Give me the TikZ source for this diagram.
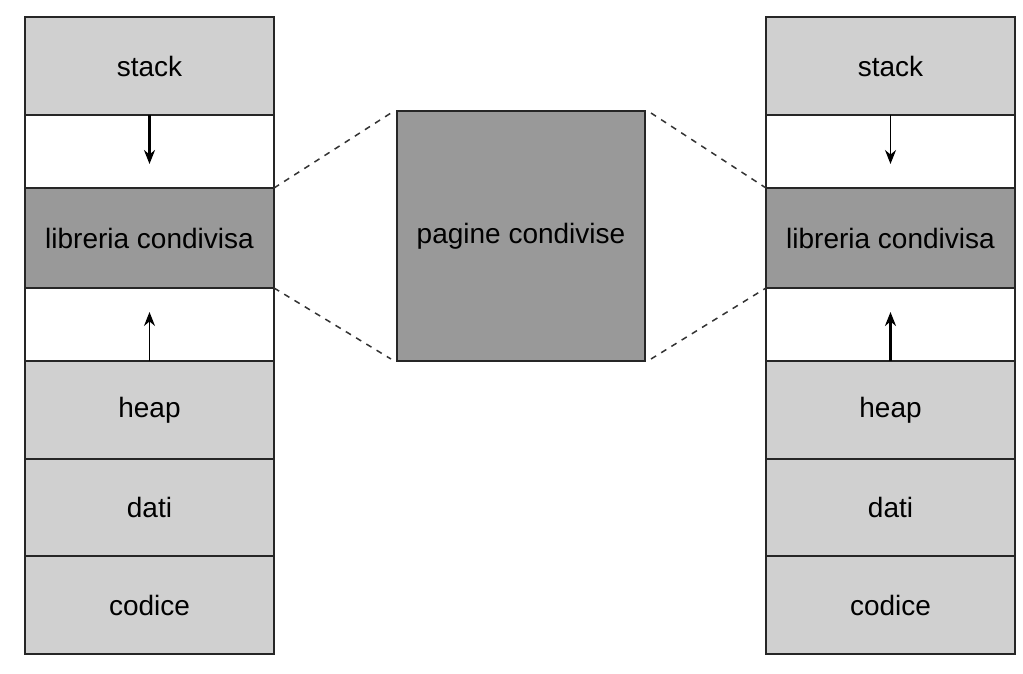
\documentclass[tikz,border=0pt]{standalone}
\usepackage{fontspec}
\setmainfont{Liberation Sans}
\usetikzlibrary{positioning}
\usetikzlibrary {arrows.meta}
\definecolor{cellgray}{RGB}{208,208,208}
\definecolor{libgray}{RGB}{153,153,153}
\tikzset{segment/.style={rectangle,draw=black!85,fill=cellgray,line width=0.75pt,
outer sep=0pt,inner sep=2pt,minimum height=49pt, minimum width=124.5pt,font=\fontsize{14}{16}\selectfont}}
\tikzset{gap/.style={segment,fill=white,minimum height=36.5pt}}
\tikzset{shlib/.style={segment,fill=libgray,minimum height=50pt}}
\tikzset{growth/.style={line width=0.7pt,-{Stealth[length=7pt,width=5.5pt]}}}

\begin{document}
\begin{tikzpicture}
        \useasboundingbox[fill=white] (0pt,0pt) rectangle (511.5pt,-337pt);

        % left process
        \node[segment] (lstack) at (74.75pt,-33pt) {stack};
        \node[gap] (lfreeA) [below=0pt of lstack] {};
        \node[shlib] (llib) [below=0pt of lfreeA] {libreria condivisa};
        \node[gap] (lfreeB) [below=0pt of llib] {};
        \node[segment] (lheap) [below=0pt of lfreeB] {heap};
        \node[segment,minimum height=48.5pt] (ldati) [below=0pt of lheap] {dati};
        \node[segment] (lcodice) [below=0pt of ldati] {codice};

        % right process
        \node[segment] (rstack) at (445.25pt,-33pt) {stack};
        \node[gap] (rfreeA) [below=0pt of rstack] {};
        \node[shlib] (rlib) [below=0pt of rfreeA] {libreria condivisa};
        \node[gap] (rfreeB) [below=0pt of rlib] {};
        \node[segment] (rheap) [below=0pt of rfreeB] {heap};
        \node[segment,minimum height=48.5pt] (rdati) [below=0pt of rheap] {dati};
        \node[segment] (rcodice) [below=0pt of rdati] {codice};

        % shared pages
        \node[shlib,minimum width=124pt,minimum height=125pt] (pages) at (260.5pt,-118pt) {pagine condivise};

        \coordinate (ldown) at ([yshift=-24.5pt]lfreeA.north);
        \coordinate (lup) at ([yshift=24.5pt]lfreeB.south);
        \coordinate (rdown) at ([yshift=-24.5pt]rfreeA.north);
        \coordinate (rup) at ([yshift=24.5pt]rfreeB.south);
        \draw [growth,line width=1.3pt] (lfreeA.north) -- (ldown);
        \draw [growth] (lfreeB.south) -- (lup);
        \draw [growth] (rfreeA.north) -- (rdown);
        \draw [growth,line width=1.3pt] (rfreeB.south) -- (rup);

        \draw [dashed,line width=0.75pt,black!80] (llib.north east) -- ([xshift=-3pt,yshift=-1pt]pages.north west);
        \draw [dashed,line width=0.75pt,black!80] (llib.south east) -- ([xshift=-3pt,yshift=1pt]pages.south west);
        \draw [dashed,line width=0.75pt,black!80] ([xshift=3pt,yshift=-1pt]pages.north east) -- (rlib.north west);
        \draw [dashed,line width=0.75pt,black!80] ([xshift=3pt,yshift=1pt]pages.south east) -- (rlib.south west);

    \end{tikzpicture}
\end{document}
